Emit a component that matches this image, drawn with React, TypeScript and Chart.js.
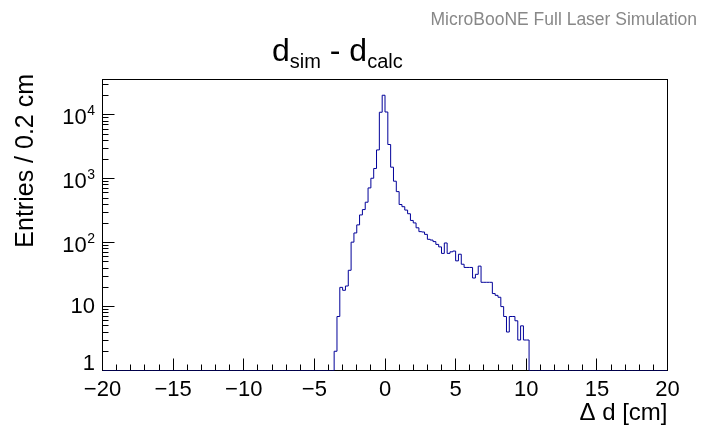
import React, { useEffect, useRef } from 'react';
import { Chart, registerables } from 'chart.js';

Chart.register(...registerables);

// ---- Histogram definition & data ----
const X_MIN = -20;
const X_MAX = 20;
const BIN_WIDTH = 0.2;
const Y_MIN = 1;
const Y_MAX = 35800;
// lower edge of the first non-empty bin
const FIRST_FILLED_EDGE = -3.6;
// bin contents from -3.6 cm to 10.2 cm (0.2 cm bins)
const binCounts = [
  2, 7, 20, 18, 21, 37, 102, 142, 190, 272, 330, 430, 720, 1020, 1450, 2830, 11000, 20300,
  11100, 3440, 1520, 917, 630, 396, 366, 324, 284, 223, 204, 171, 149, 147, 135, 113, 110, 104,
  94, 86, 68, 99, 68, 72, 74, 52, 66, 46, 41, 41, 41, 28, 32, 43, 24, 24, 24, 24, 16, 15, 14,
  10, 7, 4, 7, 7, 6, 3, 5, 3, 3,
];

const xTickValues = [-20, -15, -10, -5, 0, 5, 10, 15, 20];
const yTickValues = [1, 10, 100, 1000, 10000];
const yTickBases = ['1', '10', '10', '10', '10'];
const yTickExponents = ['', '', '2', '3', '4'];

const TITLE_MAIN = ['d', ' - d'];
const TITLE_SUBS = ['sim', 'calc'];
const X_TITLE = '\u0394 d [cm]';
const Y_TITLE = 'Entries / 0.2 cm';
const CORNER_TEXT = 'MicroBooNE Full Laser Simulation';

const FONT = "'Liberation Sans', Arial, Helvetica, sans-serif";

function buildPoints() {
  const nBins = Math.round((X_MAX - X_MIN) / BIN_WIDTH);
  const pts: { x: number; y: number }[] = [];
  let last = Y_MIN;
  for (let i = 0; i < nBins; i++) {
    const edge = X_MIN + i * BIN_WIDTH;
    const idx = Math.round((edge - FIRST_FILLED_EDGE) / BIN_WIDTH);
    const c = idx >= 0 && idx < binCounts.length ? binCounts[idx] : 0;
    last = Math.max(c, Y_MIN);
    pts.push({ x: edge, y: last });
  }
  pts.push({ x: X_MAX, y: last });
  return pts;
}

const rootStyle = {
  id: 'rootStyle',
  beforeDatasetsDraw(chart: any) {
    const { ctx, chartArea } = chart;
    const xs = chart.scales.x;
    const ys = chart.scales.y;
    const { left, right, top, bottom } = chartArea;
    ctx.save();
    ctx.strokeStyle = '#000';
    ctx.lineWidth = 1;
    ctx.strokeRect(left, top, right - left, bottom - top);
    // x ticks (inside)
    ctx.beginPath();
    for (let v = X_MIN; v <= X_MAX; v += 1) {
      const px = Math.round(xs.getPixelForValue(v) - 0.5) + 0.5;
      const len = v % 5 === 0 ? 12 : 6;
      ctx.moveTo(px, bottom);
      ctx.lineTo(px, bottom - len);
    }
    // y ticks (inside)
    for (let d = 1; d <= Y_MAX; d *= 10) {
      for (let k = 1; k <= 9; k++) {
        const v = d * k;
        if (v > Y_MAX || v < Y_MIN) continue;
        const py = Math.round(ys.getPixelForValue(v) - 0.5) + 0.5;
        const len = k === 1 ? 12 : 6;
        ctx.moveTo(left, py);
        ctx.lineTo(left + len, py);
      }
    }
    ctx.stroke();
    ctx.restore();
  },
  afterDraw(chart: any) {
    const { ctx, chartArea } = chart;
    const ys = chart.scales.y;
    ctx.save();
    ctx.fillStyle = '#000';
    // y tick labels
    const xr = 95;
    yTickValues.forEach((v, i) => {
      const y = ys.getPixelForValue(v);
      const base = yTickBases[i];
      const exp = yTickExponents[i];
      ctx.textAlign = 'right';
      ctx.textBaseline = 'middle';
      if (exp) {
        ctx.font = `14px ${FONT}`;
        const w = ctx.measureText(exp).width;
        ctx.fillText(exp, xr, y - 4);
        ctx.font = `22px ${FONT}`;
        ctx.fillText(base, xr - w - 0.5, y + 3);
      } else if (i === 0) {
        ctx.font = `22px ${FONT}`;
        ctx.fillText(base, xr, y - 7);
      } else {
        ctx.font = `22px ${FONT}`;
        ctx.fillText(base, xr, y);
      }
    });
    // x axis title
    ctx.textBaseline = 'alphabetic';
    ctx.textAlign = 'right';
    ctx.font = `24px ${FONT}`;
    ctx.fillText(X_TITLE, chartArea.right, 420);
    // y axis title
    ctx.save();
    ctx.translate(33, 74);
    ctx.rotate(-Math.PI / 2);
    ctx.textAlign = 'right';
    ctx.font = `25px ${FONT}`;
    ctx.fillText(Y_TITLE, 0, 0);
    ctx.restore();
    // main title with subscripts
    ctx.textAlign = 'left';
    let x = 272;
    for (let i = 0; i < TITLE_MAIN.length; i++) {
      ctx.font = `32px ${FONT}`;
      ctx.fillText(TITLE_MAIN[i], x, 61);
      x += ctx.measureText(TITLE_MAIN[i]).width;
      ctx.font = `20px ${FONT}`;
      ctx.fillText(TITLE_SUBS[i], x, 68);
      x += ctx.measureText(TITLE_SUBS[i]).width;
    }
    // corner text
    ctx.fillStyle = '#888888';
    ctx.textAlign = 'right';
    ctx.font = `17.5px ${FONT}`;
    ctx.fillText(CORNER_TEXT, 697, 25);
    ctx.restore();
  },
};

export default function App() {
  const ref = useRef<HTMLCanvasElement>(null);
  useEffect(() => {
    if (!ref.current) return;
    const chart = new Chart(ref.current, {
      type: 'line',
      data: {
        datasets: [
          {
            data: buildPoints(),
            borderColor: '#000099',
            borderWidth: 1,
            stepped: true,
            pointRadius: 0,
            fill: false,
          },
        ],
      },
      options: {
        animation: false,
        responsive: false,
        events: [],
        layout: { padding: { left: 0, right: 34.5, top: 79.5, bottom: 0 } },
        plugins: { legend: { display: false }, tooltip: { enabled: false }, title: { display: false } },
        scales: {
          x: {
            type: 'linear',
            min: X_MIN,
            max: X_MAX,
            grid: { display: false, drawTicks: false },
            border: { display: false },
            afterBuildTicks: (s: any) => {
              s.ticks = xTickValues.map((v) => ({ value: v }));
            },
            ticks: {
              autoSkip: false,
              maxRotation: 0,
              padding: 6,
              color: '#000',
              font: { family: FONT, size: 22 },
              callback: (v: any) => (Number(v) < 0 ? '\u2212' + Math.abs(Number(v)) : String(v)),
            },
            afterFit: (s: any) => {
              s.height = 56.5;
              s.paddingLeft = 0;
              s.paddingRight = 0;
            },
          },
          y: {
            type: 'logarithmic',
            min: Y_MIN,
            max: Y_MAX,
            grid: { display: false, drawTicks: false },
            border: { display: false },
            ticks: { display: false },
            afterFit: (s: any) => {
              s.width = 102.5;
              s.paddingTop = 0;
              s.paddingBottom = 0;
            },
          },
        },
      },
      plugins: [rootStyle],
    });
    return () => chart.destroy();
  }, []);
  return (
    <div style={{ position: 'absolute', left: 0, top: 0, width: 702, height: 427, background: '#fff' }}>
      <canvas ref={ref} width={702} height={427} style={{ display: 'block' }} />
    </div>
  );
}
